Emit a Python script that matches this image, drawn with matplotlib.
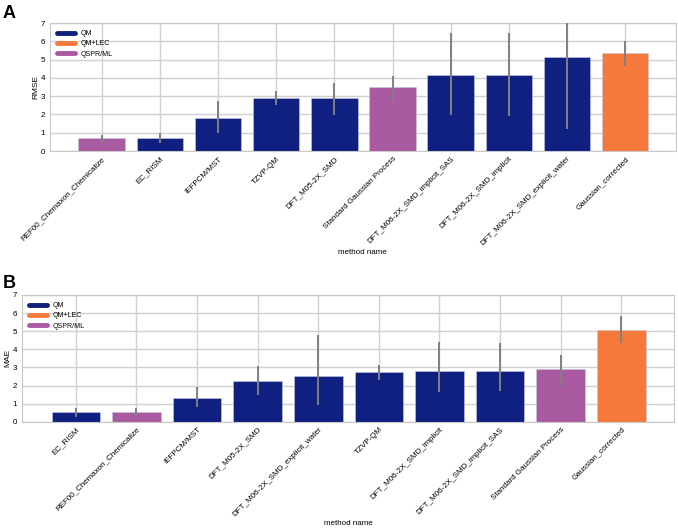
import matplotlib.pyplot as plt
import numpy as np

plt.rcParams['font.family'] = ['Liberation Sans', 'DejaVu Sans']

# colours per method class
class_colors = {"QM": "#0F2080", "QM+LEC": "#F5793A", "QSPR/ML": "#A95AA1"}

# Panel A - RMSE
rmse_methods = ["REF00_Chemaxon_Chemicalize", "EC_RISM", "IEFPCM/MST", "TZVP-QM",
                "DFT_M05-2X_SMD", "Standard Gaussian Process",
                "DFT_M06-2X_SMD_implicit_SAS", "DFT_M06-2X_SMD_implicit",
                "DFT_M06-2X_SMD_explicit_water", "Gaussian_corrected"]
rmse_class = ["QSPR/ML", "QM", "QM", "QM", "QM", "QSPR/ML", "QM", "QM", "QM", "QM+LEC"]
rmse_values = [0.71, 0.72, 1.83, 2.91, 2.91, 3.50, 4.14, 4.16, 5.13, 5.37]
rmse_low = [0.44, 0.45, 0.99, 2.51, 1.96, 2.75, 1.98, 1.94, 1.18, 4.67]
rmse_high = [0.90, 0.99, 2.73, 3.30, 3.70, 4.10, 6.47, 6.43, 7.10, 5.99]

# Panel B - MAE
mae_methods = ["EC_RISM", "REF00_Chemaxon_Chemicalize", "IEFPCM/MST", "DFT_M05-2X_SMD",
               "DFT_M06-2X_SMD_explicit_water", "TZVP-QM", "DFT_M06-2X_SMD_implicit",
               "DFT_M06-2X_SMD_implicit_SAS", "Standard Gaussian Process",
               "Gaussian_corrected"]
mae_class = ["QM", "QSPR/ML", "QM", "QM", "QM", "QM", "QM", "QM", "QSPR/ML", "QM+LEC"]
mae_values = [0.52, 0.55, 1.29, 2.25, 2.52, 2.73, 2.78, 2.78, 2.89, 5.08]
mae_low = [0.28, 0.31, 0.80, 1.46, 0.91, 2.30, 1.66, 1.71, 1.97, 4.35]
mae_high = [0.74, 0.76, 1.93, 3.08, 4.79, 3.13, 4.39, 4.37, 3.68, 5.82]


def barPanel(ax, methods, classes, values, low, high, ylabel):
    x = np.arange(len(methods))
    cols = [class_colors[c] for c in classes]

    ax.set_axisbelow(True)
    ax.grid(color="#d0d0d0", linewidth=1.0)
    ax.bar(x, values, width=0.8, color=cols, edgecolor="#c8c8e0", linewidth=0.4, zorder=2)
    ax.vlines(x, low, high, color="#808080", linewidth=1.4, zorder=3)

    # legend with thick line handles
    for name, c in class_colors.items():
        ax.plot([], [], color=c, linewidth=3.5, solid_capstyle="round", label=name)
    ax.legend(loc="upper left", frameon=False, fontsize=5, handlelength=2.6,
              borderaxespad=0.6, labelspacing=0.5)

    ax.set_xticks(x)
    ax.set_xticklabels(methods, rotation=45, ha="right", rotation_mode="anchor",
                       fontsize=5.8)
    ax.set_xlim(-0.89, len(methods) - 0.13)
    ax.set_ylim(0, 7)
    ax.set_yticks(range(8))
    ax.tick_params(axis="y", labelsize=5.8, length=0, pad=3.5)
    ax.tick_params(axis="x", length=0, pad=3)
    ax.set_ylabel(ylabel, fontsize=6, labelpad=1)
    ax.set_xlabel("method name", fontsize=5.8, labelpad=1)
    for s in ax.spines.values():
        s.set_color("#c8c8c8")
        s.set_linewidth(0.8)


fig = plt.figure(figsize=(6.78, 5.28), dpi=100)

axA = fig.add_axes([0.0737, 0.714, 0.923, 0.2424])
barPanel(axA, rmse_methods, rmse_class, rmse_values, rmse_low, rmse_high, "RMSE")

axB = fig.add_axes([0.0324, 0.2013, 0.9617, 0.240])
barPanel(axB, mae_methods, mae_class, mae_values, mae_low, mae_high, "MAE")

fig.text(0.004, 0.99, "A", fontsize=13, fontweight="bold", va="top")
fig.text(0.004, 0.48, "B", fontsize=13, fontweight="bold", va="top")

fig.savefig("out.png", dpi=100)
